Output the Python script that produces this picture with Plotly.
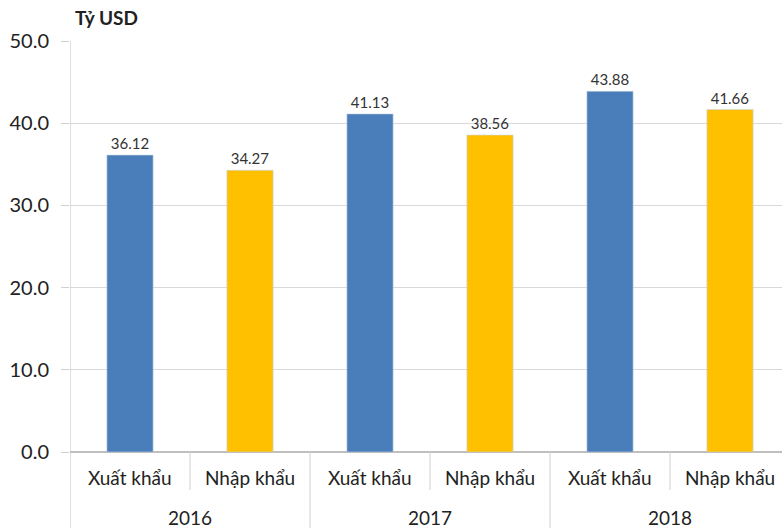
import plotly.graph_objects as go

# Kim ngạch xuất khẩu / nhập khẩu theo năm (tỷ USD)
years = ["2016", "2017", "2018"]
flows = ["Xuất khẩu", "Nhập khẩu"]
values = {
    "2016": [36.12, 34.27],
    "2017": [41.13, 38.56],
    "2018": [43.88, 41.66],
}
y_ticks = [0, 10, 20, 30, 40, 50]
unit_label = "Tỷ USD"

colors = {"Xuất khẩu": "#4a7ebb", "Nhập khẩu": "#ffc000"}
font_family = "Lato, 'Noto Sans', sans-serif"

cats, ys, cols, flow_of = [], [], [], []
for yr in years:
    for f, v in zip(flows, values[yr]):
        cats.append(f"{yr} {f}")
        ys.append(v)
        cols.append(colors[f])
        flow_of.append(f)

fig = go.Figure(
    go.Bar(
        x=cats,
        y=ys,
        marker=dict(color=cols, line=dict(color="rgba(200,210,225,0.6)", width=1)),
        width=0.385,
        text=[f"{v:.2f}" for v in ys],
        textposition="outside",
        textfont=dict(size=15, color="#333333", family=font_family),
        cliponaxis=False,
        hoverinfo="skip",
    )
)

n = len(cats)
W, H = 782, 528
ml, mt, mb = 70, 41, 76
plot_h = H - mt - mb
slot_px = 120
x_hi = -0.5 + (W - ml) / slot_px


def py(px):
    """Pixel row (from the top of the page) -> paper y."""
    return (H - mb - px) / plot_h


shapes = []
# left axis line continues through the category rows
shapes.append(dict(type="line", xref="x", yref="paper", x0=-0.5, x1=-0.5,
                   y0=1, y1=py(H), line=dict(color="#bfbfbf", width=1)))
for i in range(n - 1):
    boundary = i + 0.5
    long_line = (i % len(flows)) == len(flows) - 1
    shapes.append(dict(type="line", xref="x", yref="paper", x0=boundary, x1=boundary,
                       y0=0, y1=py(H) if long_line else py(490),
                       line=dict(color="#d0d0d0", width=1)))

label_font = dict(size=19, color="#222222", family=font_family)
annotations = []
for i, f in enumerate(flow_of):
    annotations.append(dict(x=i, y=py(478), xref="x", yref="paper", text=f,
                            yanchor="middle", showarrow=False, font=label_font))
for g, yr in enumerate(years):
    center = g * len(flows) + (len(flows) - 1) / 2
    annotations.append(dict(x=center, y=py(517), xref="x", yref="paper", text=yr,
                            yanchor="middle", showarrow=False, font=label_font))
annotations.append(dict(x=0, y=py(18), xref="paper", yref="paper",
                        text=f"<b>{unit_label}</b>", showarrow=False,
                        xanchor="left", yanchor="middle", xshift=3,
                        font=dict(size=19, color="#222222", family=font_family)))

fig.update_layout(
    width=W,
    height=H,
    margin=dict(l=ml, r=0, t=mt, b=mb, pad=0),
    paper_bgcolor="white",
    plot_bgcolor="white",
    showlegend=False,
    shapes=shapes,
    annotations=annotations,
    font=dict(family=font_family),
    xaxis=dict(
        type="category",
        range=[-0.5, x_hi],
        showticklabels=False,
        showgrid=False,
        zeroline=False,
        showline=False,
        ticks="",
        fixedrange=True,
    ),
    yaxis=dict(
        range=[0, 50],
        tickvals=y_ticks,
        ticktext=[f"{t:.1f}" for t in y_ticks],
        tickfont=dict(size=20, color="#222222", family=font_family),
        showgrid=True,
        gridcolor="#d9d9d9",
        gridwidth=1,
        zeroline=True,
        zerolinecolor="#bfbfbf",
        showline=False,
        ticks="outside",
        ticklen=8,
        tickcolor="#d0d0d0",
        ticklabelstandoff=8,
        fixedrange=True,
    ),
)

fig.write_html("out.html")
